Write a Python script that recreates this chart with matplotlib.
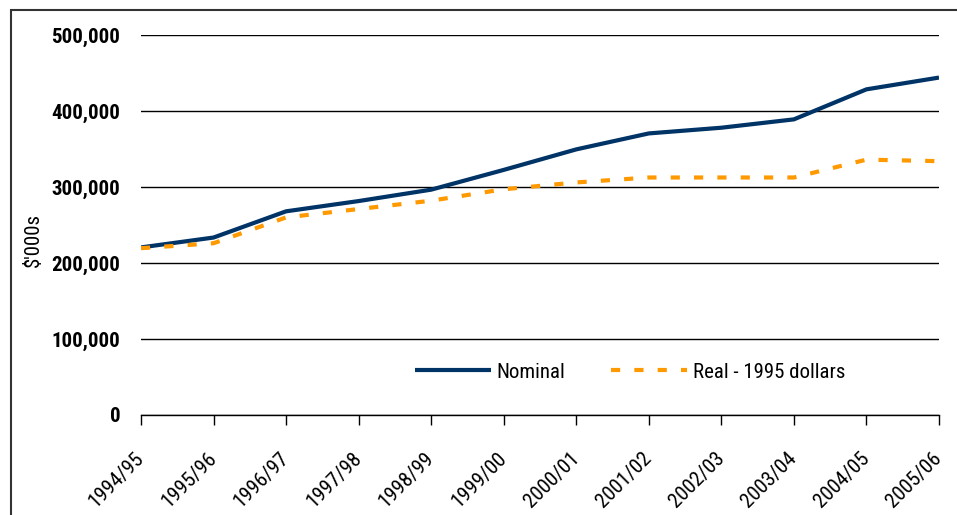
import matplotlib
matplotlib.use('Agg')
import matplotlib.pyplot as plt
from matplotlib.patches import Rectangle
from matplotlib.ticker import FuncFormatter

# Datos
years = ['1994/95', '1995/96', '1996/97', '1997/98', '1998/99', '1999/00',
         '2000/01', '2001/02', '2002/03', '2003/04', '2004/05', '2005/06']
nominal = [220500, 233500, 268000, 281500, 296500, 322500,
           349500, 370500, 378000, 389000, 428500, 444000]
real = [219500, 226000, 260000, 271000, 282000, 297000,
        306000, 312500, 312500, 312500, 336000, 334000]

plt.rcParams['font.family'] = ['Roboto Condensed', 'Liberation Sans', 'DejaVu Sans']

fig = plt.figure(figsize=(9.57, 5.15), dpi=100)
ax = fig.add_axes([141/957, 1-415/515, (939-141)/957, (415-35)/515])

x = range(len(years))
ax.plot(x, nominal, color='#003366', lw=3, solid_capstyle='butt', label='Nominal')
ax.plot(x, real, color='#FF9900', lw=3, dashes=(2.2, 3.4), dash_capstyle='butt',
        label='Real - 1995 dollars')

ax.set_xlim(0, len(years)-1)
ax.set_ylim(0, 500000)
ax.set_yticks(range(0, 500001, 100000))
ax.yaxis.set_major_formatter(FuncFormatter(lambda v, p: f'{int(v):,}'))
ax.grid(True, axis='y', color='black', lw=1)
ax.set_axisbelow(True)

for s in ['left', 'right', 'top']:
    ax.spines[s].set_visible(False)
ax.spines['bottom'].set_linewidth(1)

ax.set_xticks(list(x))
ax.set_xticklabels(years, rotation=45, ha='right', va='center', rotation_mode='anchor',
                   fontsize=15)
ax.tick_params(axis='x', length=7, width=1, pad=22)
ax.tick_params(axis='y', length=0, pad=15, labelsize=15)
for t in ax.get_yticklabels():
    t.set_fontweight('bold')

ax.set_ylabel("$'000s", fontsize=15, labelpad=4)
ax.yaxis.set_label_coords(-0.123, 0.46)

ax.legend(ncol=2, frameon=False, fontsize=15, handlelength=3.65, columnspacing=2.2,
          handletextpad=0.25, loc='center', bbox_to_anchor=(0.613, 0.113))

# Marco
fig.patches.append(Rectangle((11/957, -0.1), 1.2, 1-10/515+0.1, transform=fig.transFigure,
                             fill=False, edgecolor='#333333', lw=1.5))

fig.savefig('out.png', dpi=100)
